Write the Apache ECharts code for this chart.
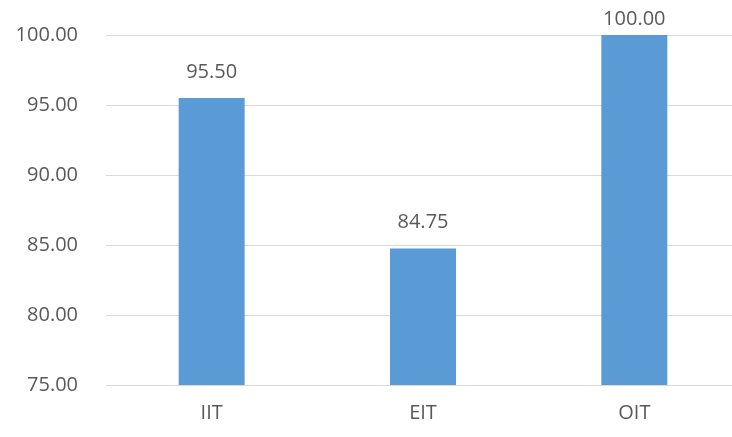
<!DOCTYPE html>
<html>
<head>
<meta charset="utf-8">
<script src="https://cdn.jsdelivr.net/npm/echarts@6/dist/echarts.min.js"></script>
<style>
html,body{margin:0;padding:0;background:#fff;overflow:hidden;width:732px;height:437px;}
#chart{width:740px;height:437px;}
</style>
</head>
<body>
<div id="chart"></div>
<script>
const categories = ['IIT', 'EIT', 'OIT'];
const values = [95.50, 84.75, 100.00];
const yMin = 75, yMax = 100, yStep = 5;

const chart = echarts.init(document.getElementById('chart'), null, {renderer: 'canvas'});
const font = '"Open Sans", "Noto Sans", sans-serif';
const labelDist = v => (v >= yMax ? 6 : 16);
chart.setOption({
  animation: false,
  grid: {left: 106, top: 35, right: 0, height: 350, containLabel: false},
  xAxis: {
    type: 'category',
    data: categories,
    axisLine: {show: true, lineStyle: {color: '#d9d9d9', width: 1}},
    axisTick: {show: false},
    axisLabel: {color: '#595959', fontSize: 20, fontFamily: font, margin: 18}
  },
  yAxis: {
    type: 'value',
    min: yMin, max: yMax, interval: yStep,
    axisLine: {show: false},
    axisTick: {show: false},
    splitLine: {lineStyle: {color: '#d9d9d9', width: 1}},
    axisLabel: {color: '#595959', fontSize: 20, fontFamily: font, margin: 28,
      formatter: v => v.toFixed(2)}
  },
  series: [{
    type: 'bar',
    data: values.map(v => ({value: v, label: {distance: labelDist(v)}})),
    barWidth: 66,
    itemStyle: {color: '#5b9bd5'},
    label: {show: true, position: 'top', color: '#595959', fontSize: 20, fontFamily: font,
      formatter: p => p.value.toFixed(2)}
  }]
});
</script>
</body>
</html>
